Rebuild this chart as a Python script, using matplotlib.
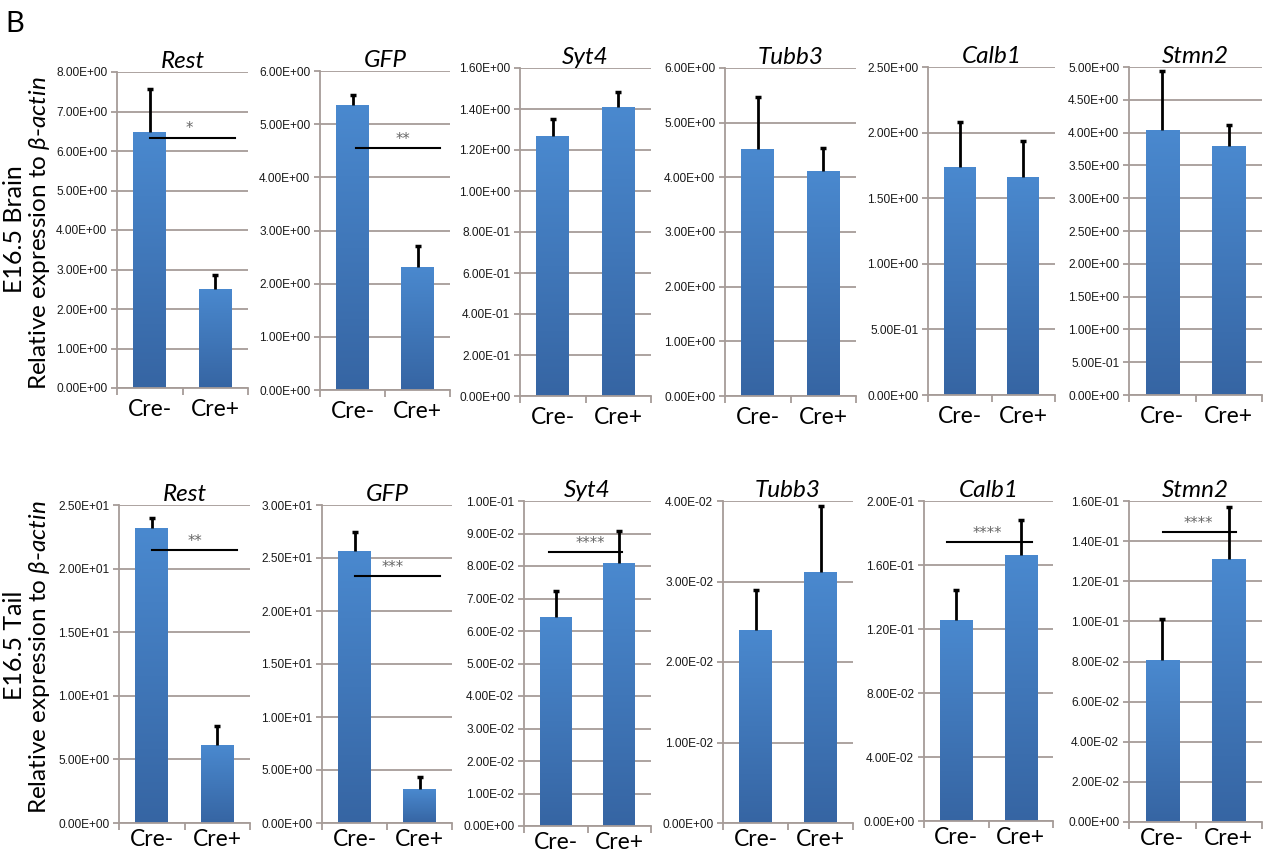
import numpy as np
import matplotlib
matplotlib.use("Agg")
import matplotlib.pyplot as plt
from matplotlib.colors import LinearSegmentedColormap

plt.rcParams['font.family'] = ['Lato', 'DejaVu Sans']
plt.rcParams['mathtext.fontset'] = 'custom'
plt.rcParams['mathtext.rm'] = 'Lato'
plt.rcParams['mathtext.it'] = 'Lato:italic'

genes = ["Rest", "GFP", "Syt4", "Tubb3", "Calb1", "Stmn2"]
groups = ["Cre-", "Cre+"]

# qPCR means (Cre-, Cre+) and upper error (SD)
brain_mean = [[6.47, 2.51], [5.36, 2.32], [1.27, 1.408], [4.51, 4.12], [1.74, 1.664], [4.04, 3.80]]
brain_err = [[1.09, 0.36], [0.19, 0.38], [0.081, 0.076], [0.96, 0.42], [0.34, 0.274], [0.90, 0.31]]
tail_mean = [[23.17, 6.13], [25.7, 3.18], [0.0644, 0.0808], [0.0240, 0.0312], [0.1256, 0.1663], [0.0807, 0.1309]]
tail_err = [[0.83, 1.52], [1.8, 1.19], [0.0079, 0.0101], [0.0049, 0.0082], [0.0188, 0.0217], [0.0205, 0.0259]]

brain_ymax = [8.0, 6.0, 1.6, 6.0, 2.5, 5.0]
brain_step = [1.0, 1.0, 0.2, 1.0, 0.5, 0.5]
tail_ymax = [25.0, 30.0, 0.1, 0.04, 0.2, 0.16]
tail_step = [5.0, 5.0, 0.01, 0.01, 0.04, 0.02]

# significance bars: (row, col, y, x_start, x_end, stars, star_x)
sig_bars = [
    (0, 0, 6.34, 0.0, 1.30, "*", 0.61),
    (0, 1, 4.55, 0.05, 1.35, "**", 0.78),
    (1, 0, 21.46, 0.0, 1.30, "**", 0.66),
    (1, 1, 23.3, 0.01, 1.32, "***", 0.59),
    (1, 2, 0.0842, -0.10, 1.05, "****", 0.55),
    (1, 4, 0.1744, -0.14, 1.17, "****", 0.48),
    (1, 5, 0.1445, 0.01, 1.11, "****", 0.54),
]

# axes boxes in pixels: left, top, right, bottom
boxes = [
    [(117, 72, 248, 388), (320, 71, 450, 390), (520, 68, 651, 396),
     (725, 68, 856, 396), (928, 67, 1055, 395), (1129, 67, 1262, 395)],
    [(119, 505, 250, 823), (322, 505, 452, 823), (524, 501, 651, 826),
     (723, 501, 853, 823), (924, 501, 1053, 821), (1129, 501, 1262, 822)],
]
label_pad = [8, 4]

W, H = 1266, 852
grid_col = "#a69c98"
bar_cmap = LinearSegmentedColormap.from_list("bar", ["#3665a3", "#4a89cf"])
grad = np.linspace(0, 1, 256).reshape(-1, 1)

fig = plt.figure(figsize=(W / 100, H / 100), dpi=100)

rows = [(brain_mean, brain_err, brain_ymax, brain_step),
        (tail_mean, tail_err, tail_ymax, tail_step)]
axes = {}
for r, (means, errs, ymaxs, steps) in enumerate(rows):
    for c, gene in enumerate(genes):
        l, t, rr, b = boxes[r][c]
        ax = fig.add_axes([l / W, 1 - b / H, (rr - l) / W, (b - t) / H])
        axes[(r, c)] = ax
        x = np.arange(len(groups))
        m = np.array(means[c])
        e = np.array(errs[c])
        bars = ax.bar(x, m, width=0.5, color="#4079bd", zorder=2)
        for bar in bars:
            x0 = bar.get_x()
            im = ax.imshow(grad, extent=(x0, x0 + bar.get_width(), 0, bar.get_height()),
                           origin="lower", aspect="auto", cmap=bar_cmap, zorder=2.1)
            im.set_clip_path(bar)
        # upper error bars only
        ax.vlines(x, m, m + e, color="black", lw=2, zorder=3)
        ax.plot(x, m + e, ls="none", marker="_", ms=5, mew=2.5, color="black", zorder=3)
        ax.set_xlim(-0.5, 1.5)
        ax.set_ylim(0, ymaxs[c])
        ticks = np.arange(0, ymaxs[c] + steps[c] / 2, steps[c])
        ax.set_yticks(ticks)
        ax.set_yticklabels(["%.2E" % v for v in ticks], fontsize=8.6,
                           family="Liberation Sans", color="#1a1a1a")
        ax.yaxis.grid(True, color=grid_col, lw=1.3)
        ax.set_axisbelow(True)
        ax.set_xticks(x)
        ax.set_xticklabels(groups, fontsize=16.5)
        ax.set_xticks([-0.5, 0.5, 1.5], minor=True)
        ax.tick_params(axis="x", which="major", length=0, pad=label_pad[r])
        ax.tick_params(axis="x", which="minor", length=5, color=grid_col, width=1.3)
        ax.tick_params(axis="y", length=4, color=grid_col, width=1.3, pad=3)
        for s in ["top", "right"]:
            ax.spines[s].set_visible(False)
        for s in ["left", "bottom"]:
            ax.spines[s].set_color(grid_col)
            ax.spines[s].set_linewidth(1.3)
        ax.set_title(gene, fontsize=17.5, style="italic", pad=2)

for r, c, y, xs, xe, stars, sx in sig_bars:
    ax = axes[(r, c)]
    ax.plot([xs, xe], [y, y], color="black", lw=1.5, zorder=4, clip_on=False)
    ax.annotate(stars, (sx, y), xytext=(0, 1), textcoords="offset points",
                ha="center", va="bottom", fontsize=10.5, color="#666666",
                family="DejaVu Sans", zorder=4)

# row labels
ylab = r"Relative expression to $\beta$-$\mathit{actin}$"
fig.text(15 / W, 1 - 229 / H, "E16.5 Brain", rotation=90, ha="center", va="center", fontsize=18)
fig.text(40 / W, 1 - 233 / H, ylab, rotation=90, ha="center", va="center", fontsize=17.5)
fig.text(15 / W, 1 - 645 / H, "E16.5 Tail", rotation=90, ha="center", va="center", fontsize=18)
fig.text(40 / W, 1 - 657 / H, ylab, rotation=90, ha="center", va="center", fontsize=17.5)

fig.text(5 / W, 1 - 24 / H, "B", ha="left", va="center", fontsize=21)

fig.savefig("out.png", dpi=100)
